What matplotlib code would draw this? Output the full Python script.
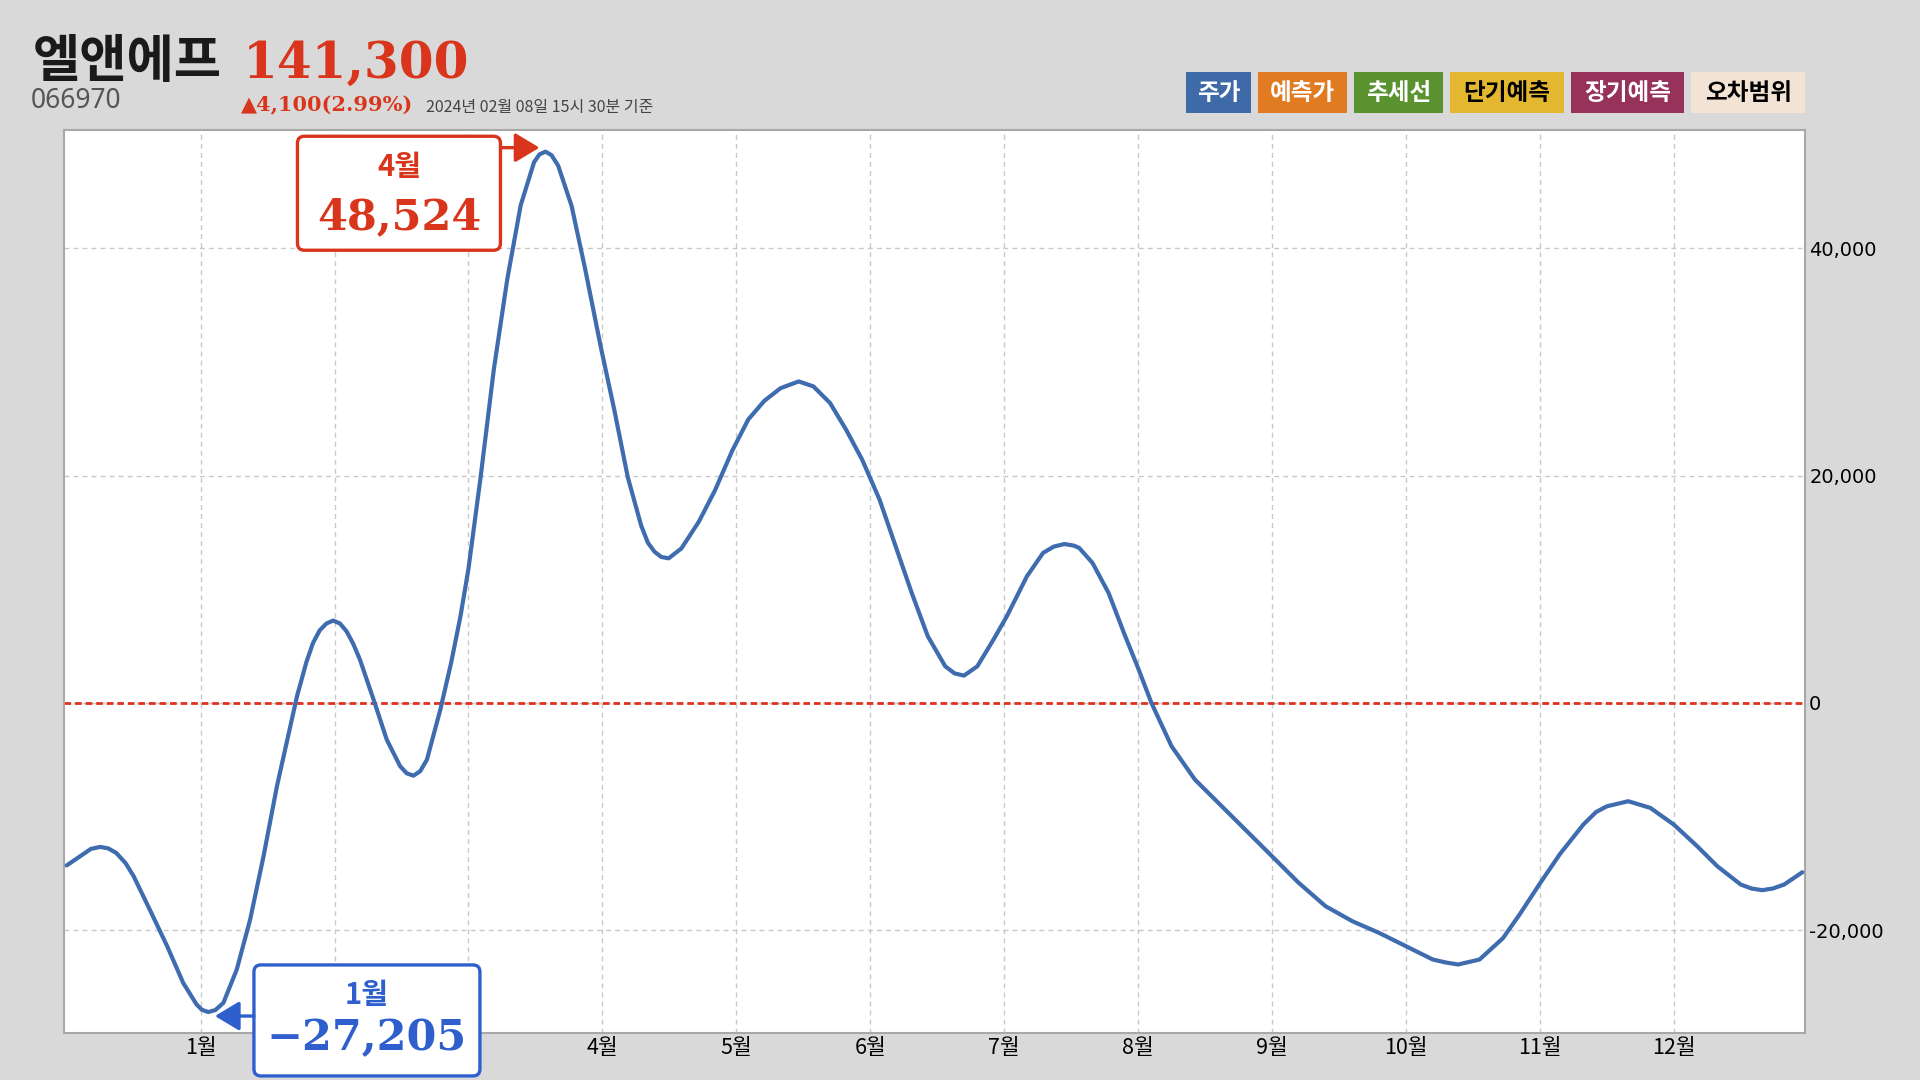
# -*- coding: utf-8 -*-
# 엘앤에프 월별 편차 차트 (recreation)

import matplotlib
matplotlib.use('Agg')
import matplotlib.pyplot as plt
import numpy as np
from matplotlib.patches import FancyBboxPatch, FancyArrowPatch, Rectangle
from matplotlib.transforms import IdentityTransform

plt.rcParams['font.family'] = ['Noto Sans CJK KR', 'DejaVu Sans']
plt.rcParams['axes.unicode_minus'] = False

# %% Data
STOCK_NAME = '엘앤에프'
STOCK_CODE = '066970'
PRICE = 141300
CHANGE = 4100
CHANGE_PCT = 2.99
AS_OF = '2024년 02월 08일 15시 30분 기준'

# x position in months (1 = 1월 gridline)
month_pos = [
    0.00, 0.10, 0.18, 0.25, 0.31, 0.37, 0.44, 0.50, 0.62, 0.75,
    0.87, 0.97, 1.01, 1.057, 1.11, 1.17, 1.27, 1.37, 1.47, 1.57,
    1.67, 1.72, 1.79, 1.84, 1.89, 1.94, 1.99, 2.04, 2.09, 2.14,
    2.19, 2.30, 2.39, 2.49, 2.54, 2.59, 2.64, 2.69, 2.79, 2.87,
    2.94, 3.00, 3.09, 3.19, 3.29, 3.39, 3.49, 3.53, 3.575, 3.62,
    3.67, 3.77, 3.87, 3.99, 4.09, 4.19, 4.29, 4.34, 4.39, 4.44,
    4.495, 4.59, 4.72, 4.84, 4.97, 5.09, 5.21, 5.33, 5.466, 5.576,
    5.70, 5.82, 5.94, 6.07, 6.19, 6.31, 6.43, 6.56, 6.63, 6.70,
    6.80, 6.92, 7.02, 7.17, 7.29, 7.37, 7.45, 7.52, 7.56, 7.66,
    7.78, 7.90, 8.00, 8.10, 8.25, 8.425, 8.60, 8.80, 9.00, 9.20,
    9.40, 9.60, 9.80, 10.00, 10.20, 10.30, 10.39, 10.55, 10.725, 10.85,
    11.00, 11.15, 11.325, 11.42, 11.50, 11.66, 11.825, 12.00, 12.175, 12.325,
    12.50, 12.58, 12.66, 12.74, 12.825, 12.96,
]
values = [
    -14300, -13500, -12850, -12670, -12800, -13200, -14100, -15250, -18180, -21400,
    -24640, -26540, -27010, -27205, -27030, -26400, -23460, -19060, -13490, -7330,
    -2050, 600, 3600, 5300, 6400, 7000, 7250, 7000, 6300, 5200,
    3810, 0, -3230, -5570, -6200, -6400, -6000, -4990, -590, 3500,
    7600, 11800, 19800, 29400, 37300, 43800, 47600, 48280, 48524, 48220,
    47290, 43760, 38280, 31230, 25740, 19860, 15600, 14100, 13300, 12850,
    12730, 13600, 15950, 18690, 22210, 24960, 26600, 27700, 28300, 27860,
    26400, 24050, 21410, 17890, 13785, 9680, 5870, 3230, 2600, 2405,
    3230, 5570, 7625, 11145, 13200, 13760, 13990, 13850, 13650, 12320,
    9680, 6000, 3080, 0, -3810, -6750, -8800, -11145, -13490, -15840,
    -17890, -19210, -20240, -21410, -22580, -22850, -23020, -22580, -20700, -18600,
    -15900, -13300, -10700, -9600, -9100, -8650, -9235, -10700, -12610, -14370,
    -15980, -16330, -16480, -16330, -15980, -14900,
]

month_ticks = list(range(1, 13))
month_labels = [f'{m}월' for m in month_ticks]
y_ticks = [-20000, 0, 20000, 40000]

legend_labels = ['주가', '예측가', '추세선', '단기예측', '장기예측', '오차범위']
legend_colors = ['#3f6aa8', '#e07b22', '#5a9230', '#e3b830', '#97325a', '#f3e3d4']
legend_text_colors = ['white', 'white', 'white', 'black', 'white', 'black']

LINE_COLOR = '#3e6cae'
RED = '#d8351c'
BLUE = '#2f5fcc'
BG = '#d9d9d9'

# %% Figure
W, H = 1920, 1080
fig = plt.figure(figsize=(W / 100, H / 100), dpi=100, facecolor=BG)
ax = fig.add_axes([64 / W, 1 - 1033 / H, (1805 - 64) / W, (1033 - 130) / H])
ax.set_facecolor('white')

ax.plot(month_pos, values, color=LINE_COLOR, lw=3,
        solid_capstyle='round', solid_joinstyle='round', zorder=3)
ax.axhline(0, color='#e0301e', lw=2, linestyle=(0, (2.4, 1.4)), zorder=2)

ax.set_xlim(-0.02, 12.98)
ax.set_ylim(-29050, 50430)
ax.set_xticks(month_ticks)
ax.set_xticklabels(month_labels, fontsize=15.5)
ax.set_yticks(y_ticks)
ax.set_yticklabels([f'{v:,}' for v in y_ticks], family='DejaVu Sans', fontsize=14)
ax.yaxis.tick_right()
ax.tick_params(axis='y', length=0, pad=3)
ax.tick_params(axis='x', length=0, pad=3)
ax.grid(True, color='#c8c8c8', linestyle=(0, (3.5, 3)), lw=1, zorder=1)
for sp in ax.spines.values():
    sp.set_color('#a8a8a8')
    sp.set_linewidth(1.5)

# %% Header
ident = IdentityTransform()
fig.text(33, 1003, STOCK_NAME, transform=ident, fontsize=37, fontweight='black',
         color='#1a1a1a', va='baseline', ha='left')
fig.text(243, 1002, f'{PRICE:,}', transform=ident, family='DejaVu Serif',
         fontsize=36, fontweight='bold', color=RED, va='baseline', ha='left')
fig.text(31, 972, STOCK_CODE, transform=ident, family='Noto Sans', fontsize=19,
         color='#555555', va='baseline', ha='left')
fig.text(241, 969, f'▲{CHANGE:,}({CHANGE_PCT:.2f}%)', transform=ident,
         family=['DejaVu Serif', 'DejaVu Sans'], fontsize=15, fontweight='bold',
         color=RED, va='baseline', ha='left')
fig.text(426, 968, AS_OF, transform=ident, fontsize=11.5, color='#444444',
         va='baseline', ha='left')

# legend chips, right aligned to the plot frame
x = 1805
chips = []
for lab in reversed(legend_labels):
    w = 16 + 24.4 * len(lab)
    x -= w
    chips.append((x, w))
    x -= 7
chips = chips[::-1]
for (x0, w), lab, c, tc in zip(chips, legend_labels, legend_colors, legend_text_colors):
    fig.add_artist(Rectangle((x0, 967), w, 41, transform=ident, facecolor=c,
                             edgecolor='none', zorder=5))
    fig.text(x0 + w / 2, 987.5, lab, transform=ident, fontsize=17, fontweight='bold',
             color=tc, ha='center', va='center', zorder=6)

# %% Max / min callouts
vals = np.array(values)
i_max = int(np.argmax(vals))
i_min = int(np.argmin(vals))


def callout(i, color, box, arrow, t1, t2):
    px, py = ax.transData.transform((month_pos[i], values[i]))
    bx, by, bw, bh = box
    patch = FancyBboxPatch((px + bx, py + by), bw, bh, transform=ident,
                           boxstyle='round,pad=0,rounding_size=7',
                           facecolor='white', edgecolor=color, lw=2.4, zorder=10)
    fig.add_artist(patch)
    (ax0, ay0), (ax1, ay1) = arrow
    fig.add_artist(FancyArrowPatch((px + ax0, py + ay0), (px + ax1, py + ay1),
                                   transform=ident, color=color, lw=2.4,
                                   arrowstyle='-|>,head_length=0.75,head_width=0.45',
                                   mutation_scale=20, shrinkA=0, shrinkB=0, zorder=10))
    cx = px + bx + bw / 2
    month = int(round(month_pos[i]))
    fig.text(cx, py + t1, f'{month}월', transform=ident, fontsize=21, fontweight='bold',
             color=color, ha='center', va='center', zorder=11)
    fig.text(cx, py + t2, f'{values[i]:,}'.replace('-', '−'), transform=ident,
             family='DejaVu Serif', fontsize=31, fontweight='bold', color=color,
             ha='center', va='baseline', zorder=11)
    return patch


callout(i_max, RED, (-248, -98.6, 203, 114), ((-45, 4), (-6, 4)), -15.3, -77.6)
low_box = callout(i_min, BLUE, (45.7, -63.9, 226, 111), ((45.7, -4), (6.7, -4)), 17.1, -37.9)

# month labels that sit under the low callout are not shown
fig.canvas.draw()
box_ext = low_box.get_window_extent()
for lab in ax.get_xticklabels():
    ext = lab.get_window_extent()
    if ext.x1 > box_ext.x0 - 8 and ext.x0 < box_ext.x1 + 8:
        lab.set_visible(False)

fig.savefig('out.png', dpi=100, facecolor=BG)
